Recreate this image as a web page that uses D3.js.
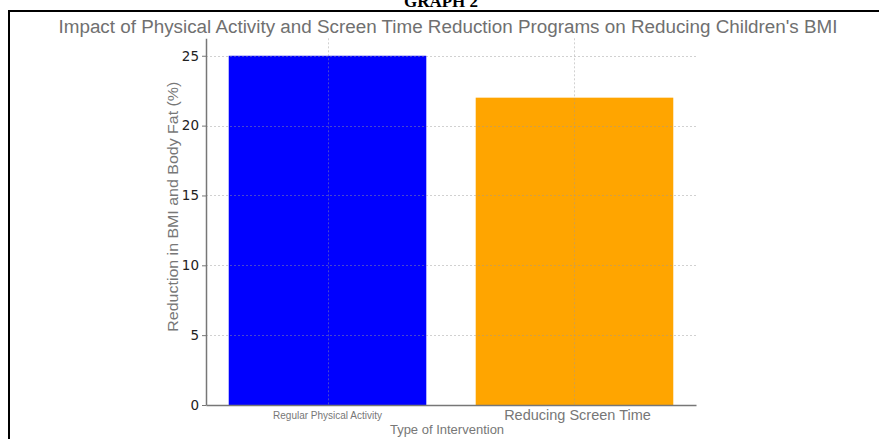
<!DOCTYPE html>
<html>
<head>
<meta charset="utf-8">
<script src="https://cdn.jsdelivr.net/npm/d3@7"></script>
<style>
  html, body { margin: 0; padding: 0; background: #fff; }
  svg { display: block; }
</style>
</head>
<body>
<script>
// Chart data
const categories = ["Regular Physical Activity", "Reducing Screen Time"];
const reductions = [25, 22];
const yTicks = [0, 5, 10, 15, 20, 25];
const barColors = ["#0000ff", "#ffa500"];

const W = 879, H = 439;
const plot = { left: 206, right: 696, top: 38.3, bottom: 405 };

const svg = d3.select("body").append("svg")
  .attr("width", W).attr("height", H);

// Figure caption, sitting against the top edge
svg.append("text")
  .attr("x", 441).attr("y", 7)
  .attr("text-anchor", "middle")
  .style("font-family", "'Liberation Serif', 'Times New Roman', serif")
  .style("font-weight", "bold")
  .style("font-size", "17px")
  .attr("fill", "#000")
  .text("GRAPH 2");

// Frame around the figure
svg.append("path")
  .attr("d", `M9,${H + 5} L9,11 L${W + 5},11`)
  .attr("fill", "none")
  .attr("stroke", "#000")
  .attr("stroke-width", 2);

// Scales
const x = d3.scaleBand()
  .domain(categories)
  .range([plot.left, plot.right])
  .paddingInner(0.2)
  .paddingOuter(0.092);

const y = d3.scaleLinear()
  .domain([0, 26.25])
  .range([plot.bottom, plot.top]);

// Title
svg.append("text")
  .attr("x", 448).attr("y", 32.5)
  .attr("text-anchor", "middle")
  .attr("textLength", 779)
  .attr("lengthAdjust", "spacingAndGlyphs")
  .style("font-family", "'Liberation Sans', Arial, sans-serif")
  .style("font-size", "18px")
  .attr("fill", "#707070")
  .text("Impact of Physical Activity and Screen Time Reduction Programs on Reducing Children's BMI");

// Bars
const data = categories.map((c, i) => ({ cat: c, value: reductions[i], color: barColors[i] }));
svg.append("g").selectAll("rect")
  .data(data)
  .join("rect")
  .attr("x", d => x(d.cat))
  .attr("y", d => y(d.value))
  .attr("width", x.bandwidth())
  .attr("height", d => y(0) - y(d.value))
  .attr("fill", d => d.color);

// Dotted grid drawn over the bars
const grid = svg.append("g")
  .attr("stroke", "#999")
  .attr("stroke-opacity", 0.45)
  .attr("stroke-width", 1)
  .attr("stroke-dasharray", "2,2");
grid.selectAll("line.h")
  .data(yTicks.filter(t => t > 0))
  .join("line")
  .attr("class", "h")
  .attr("x1", plot.left).attr("x2", plot.right)
  .attr("y1", d => Math.round(y(d)) + 0.5)
  .attr("y2", d => Math.round(y(d)) + 0.5);
grid.selectAll("line.v")
  .data(categories)
  .join("line")
  .attr("class", "v")
  .attr("x1", d => Math.round(x(d) + x.bandwidth() / 2) + 0.5)
  .attr("x2", d => Math.round(x(d) + x.bandwidth() / 2) + 0.5)
  .attr("y1", plot.top).attr("y2", plot.bottom);

// Y axis
const yAxis = svg.append("g")
  .attr("transform", `translate(${plot.left},0)`)
  .call(d3.axisLeft(y).tickValues(yTicks).tickSize(4).tickPadding(3).tickSizeOuter(0));
yAxis.select(".domain").attr("stroke", "#777").attr("stroke-width", 1.5);
yAxis.selectAll(".tick line").attr("stroke", "#777");
yAxis.selectAll(".tick text")
  .style("font-family", "'DejaVu Sans', sans-serif")
  .style("font-size", "13.5px")
  .attr("fill", "#222");

// X axis
const xAxis = svg.append("g")
  .attr("transform", `translate(0,${plot.bottom})`)
  .call(d3.axisBottom(x).tickSize(0).tickSizeOuter(0));
xAxis.select(".domain").attr("stroke", "#777").attr("stroke-width", 1.5);
xAxis.selectAll(".tick text")
  .style("font-family", "'Liberation Sans', Arial, sans-serif")
  .attr("fill", "#777")
  .each(function (d, i) {
    const t = d3.select(this);
    if (i === 0) {
      t.style("font-size", "10px").attr("y", 7).attr("dy", "0.71em");
    } else {
      t.style("font-size", "14.5px").attr("y", 5).attr("dy", "0.71em")
        .attr("dx", 3);
    }
  });

// Axis titles
svg.append("text")
  .attr("x", (plot.left + plot.right) / 2 - 4).attr("y", 434)
  .attr("text-anchor", "middle")
  .style("font-family", "'Liberation Sans', Arial, sans-serif")
  .style("font-size", "13px")
  .attr("fill", "#777")
  .text("Type of Intervention");

svg.append("text")
  .attr("transform", `translate(178,${(plot.top + plot.bottom) / 2 - 15}) rotate(-90)`)
  .attr("text-anchor", "middle")
  .attr("textLength", 250)
  .attr("lengthAdjust", "spacingAndGlyphs")
  .style("font-family", "'Liberation Sans', Arial, sans-serif")
  .style("font-size", "15.5px")
  .attr("fill", "#777")
  .text("Reduction in BMI and Body Fat (%)");
</script>
</body>
</html>
